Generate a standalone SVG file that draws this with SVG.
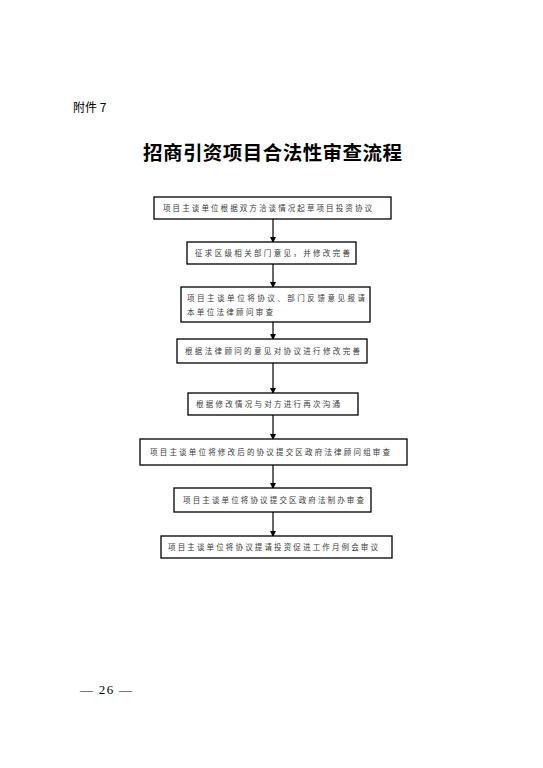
<svg xmlns="http://www.w3.org/2000/svg" width="543" height="768" viewBox="0 0 543 768">
<style>
.box{fill:#fff;stroke:#000;stroke-width:1.3}
.t{font-family:"Noto Sans CJK SC","Noto Sans",sans-serif;font-size:7.5px;fill:#3a3a3a}
.con line{stroke:#000;stroke-width:1.2}
</style>
<defs>
<marker id="ah" markerWidth="6" markerHeight="6" refX="5" refY="3" orient="auto" markerUnits="userSpaceOnUse">
<path d="M0,0 L6,3 L0,6 Z" fill="#000"/>
</marker>
</defs>
<rect width="543" height="768" fill="#fff"/>
<text x="73" y="112" font-family="'Noto Sans CJK SC',sans-serif" font-size="12" fill="#000">附件 7</text>
<text x="143" y="160" font-family="'Noto Sans CJK SC',sans-serif" font-size="19.5" font-weight="bold" textLength="259" lengthAdjust="spacing" fill="#000">招商引资项目合法性审查流程</text>
<text x="80" y="694" font-family="'Liberation Serif',serif" font-size="13" fill="#000" textLength="52" lengthAdjust="spacing">— 26 —</text>
<g class="con">
<line x1="273" y1="219" x2="273" y2="242" marker-end="url(#ah)"/>
<line x1="273" y1="264" x2="273" y2="287" marker-end="url(#ah)"/>
<line x1="273" y1="322" x2="273" y2="339" marker-end="url(#ah)"/>
<line x1="273" y1="363" x2="273" y2="393" marker-end="url(#ah)"/>
<line x1="273" y1="415" x2="273" y2="439" marker-end="url(#ah)"/>
<line x1="273" y1="465" x2="273" y2="488" marker-end="url(#ah)"/>
<line x1="273" y1="512" x2="273" y2="536" marker-end="url(#ah)"/>
</g>
<g id="n1"><rect class="box" x="154" y="197" width="237" height="22"/><text class="t" x="163" y="211" textLength="209" lengthAdjust="spacing">项目主谈单位根据双方洽谈情况起草项目投资协议</text></g>
<g id="n2"><rect class="box" x="187" y="242" width="169" height="22"/><text class="t" x="195" y="256" textLength="155" lengthAdjust="spacing">征求区级相关部门意见，并修改完善</text></g>
<g id="n3"><rect class="box" x="181" y="287" width="189" height="35"/><text class="t" x="187" y="301" textLength="178" lengthAdjust="spacing">项目主谈单位将协议、部门反馈意见报请</text><text class="t" x="187" y="315" textLength="86" lengthAdjust="spacing">本单位法律顾问审查</text></g>
<g id="n4"><rect class="box" x="177" y="339" width="190" height="24"/><text class="t" x="185" y="354" textLength="175" lengthAdjust="spacing">根据法律顾问的意见对协议进行修改完善</text></g>
<g id="n5"><rect class="box" x="188" y="393" width="170" height="22"/><text class="t" x="196" y="407" textLength="144" lengthAdjust="spacing">根据修改情况与对方进行再次沟通</text></g>
<g id="n6"><rect class="box" x="140" y="439" width="267" height="26"/><text class="t" x="150" y="455" textLength="240" lengthAdjust="spacing">项目主谈单位将修改后的协议提交区政府法律顾问组审查</text></g>
<g id="n7"><rect class="box" x="174" y="488" width="197" height="24"/><text class="t" x="183" y="503" textLength="181" lengthAdjust="spacing">项目主谈单位将协议提交区政府法制办审查</text></g>
<g id="n8"><rect class="box" x="161" y="536" width="231" height="22"/><text class="t" x="168" y="550" textLength="210" lengthAdjust="spacing">项目主谈单位将协议提请投资促进工作月例会审议</text></g>
</svg>
